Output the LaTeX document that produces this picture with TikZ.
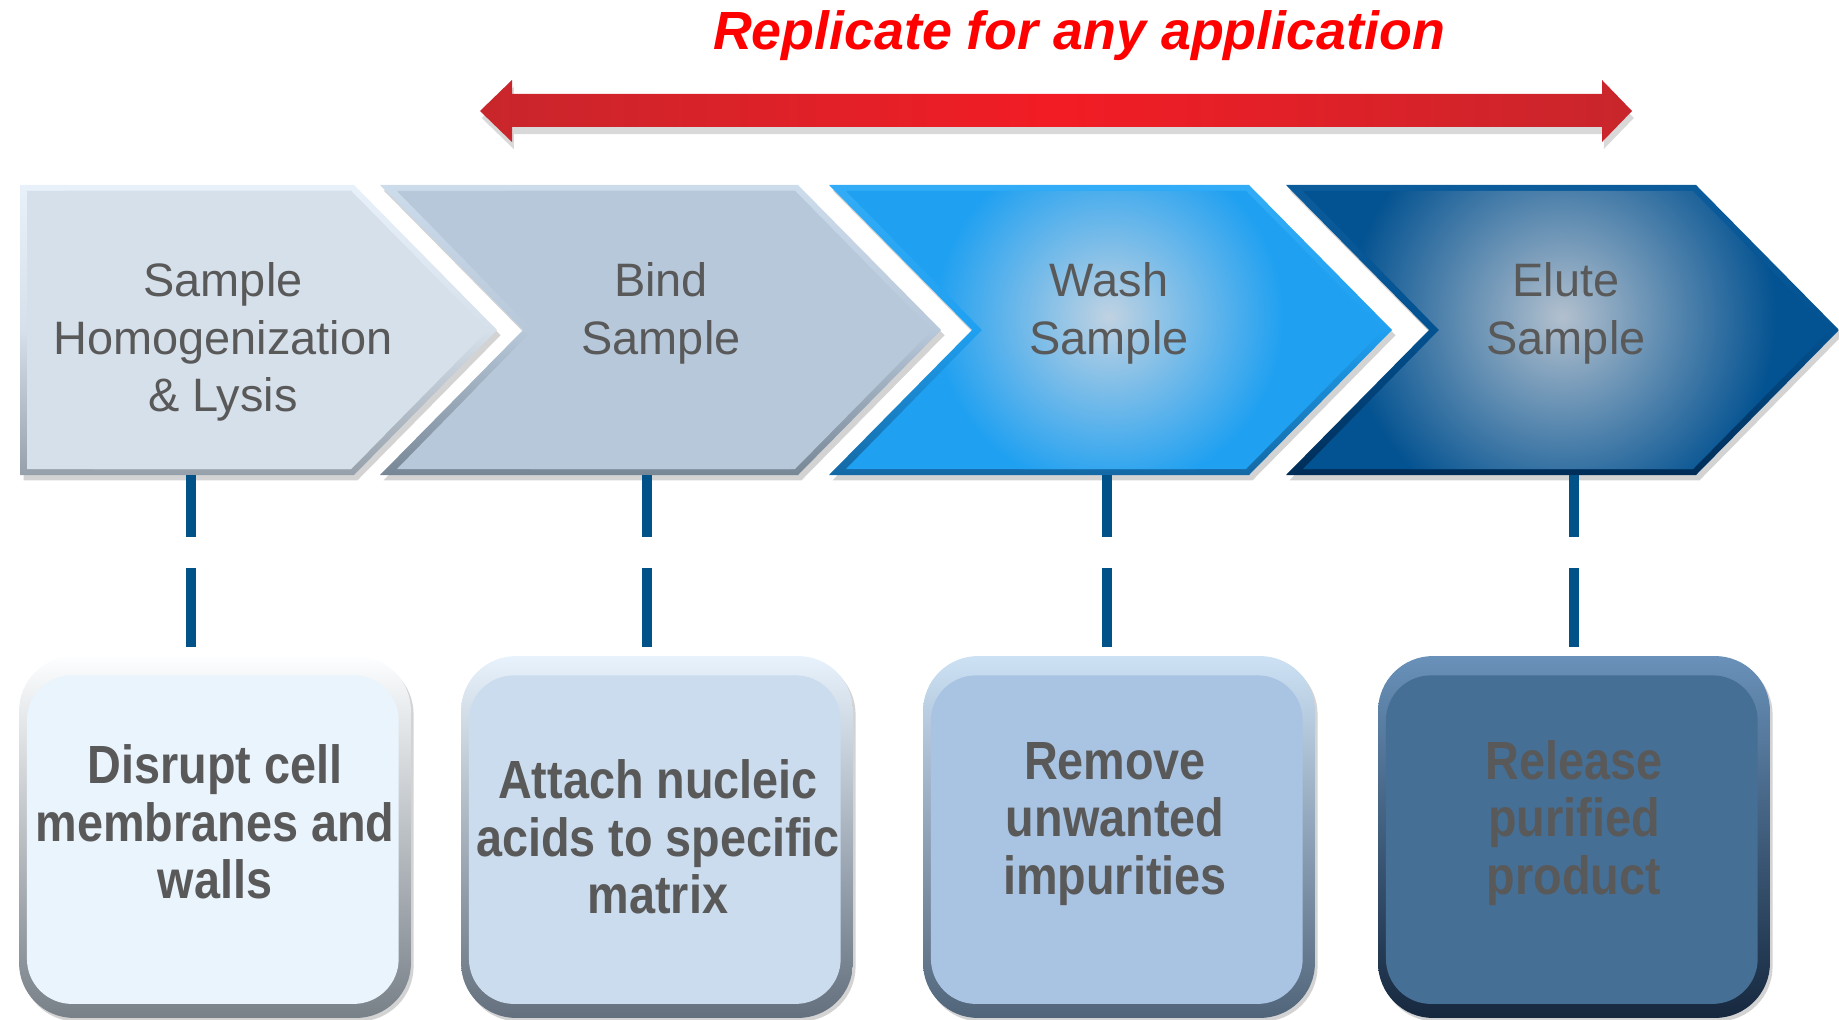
\documentclass[tikz,border=0pt]{standalone}
\usepackage{fontspec}
\setmainfont{Liberation Sans}
\newfontfamily\narrowfont[FakeStretch=0.87]{Liberation Sans}
\usetikzlibrary{shadows}

\definecolor{txtgray}{RGB}{89,89,89}
\definecolor{linkblue}{RGB}{0,82,137}
\definecolor{titlered}{RGB}{255,0,0}
\definecolor{arrowdark}{RGB}{200,38,44}
\definecolor{arrowlight}{RGB}{242,28,36}
% chevrons
\definecolor{chevA}{RGB}{214,224,234}
\definecolor{chevAtop}{RGB}{232,241,250}
\definecolor{chevAbot}{RGB}{150,160,170}
\definecolor{chevB}{RGB}{183,200,218}
\definecolor{chevBtop}{RGB}{205,220,235}
\definecolor{chevBbot}{RGB}{120,135,150}
\definecolor{chevC}{RGB}{31,160,241}
\definecolor{chevCtop}{RGB}{50,172,246}
\definecolor{chevCbot}{RGB}{20,105,165}
\definecolor{chevD}{RGB}{3,82,145}
\definecolor{chevDtop}{RGB}{12,92,155}
\definecolor{chevDbot}{RGB}{0,45,88}
\definecolor{glowC}{RGB}{192,210,226}
\definecolor{glowD}{RGB}{178,192,206}
% cards
\definecolor{cardA}{RGB}{234,244,253}
\definecolor{cardAtop}{RGB}{252,254,255}
\definecolor{cardAbot}{RGB}{120,128,136}
\definecolor{cardB}{RGB}{203,220,238}
\definecolor{cardBtop}{RGB}{232,242,252}
\definecolor{cardBbot}{RGB}{100,112,125}
\definecolor{cardC}{RGB}{169,196,226}
\definecolor{cardCtop}{RGB}{205,225,245}
\definecolor{cardCbot}{RGB}{80,100,122}
\definecolor{cardD}{RGB}{70,111,150}
\definecolor{cardDtop}{RGB}{105,145,185}
\definecolor{cardDbot}{RGB}{22,40,62}

\begin{document}
\begin{tikzpicture}[x=0.02cm, y=-0.02cm,
    steptext/.style={align=center, text=txtgray, font=\fontsize{26.7}{32.9}\selectfont},
    notetext/.style={align=center, text=txtgray, font=\narrowfont\bfseries\fontsize{30.6}{32.6}\selectfont},
    titletext/.style={text=titlered, font=\bfseries\itshape\fontsize{30.6}{34}\selectfont},
    link/.style={linkblue, line width=6.2pt, dash pattern=on 35.1pt off 18.1pt on 44.8pt off 20pt},
    card/.style n args={3}{rounded corners=1.1cm, minimum width=7.84cm, minimum height=7.24cm,
        inner sep=0pt, top color=#2, bottom color=#3,
        drop shadow={shadow xshift=1.5pt, shadow yshift=-2pt, opacity=.35},
        path picture={\fill[#1, rounded corners=0.9cm]
            ([shift={(4.5pt,-11pt)}]path picture bounding box.north west) rectangle
            ([shift={(-7pt,8pt)}]path picture bounding box.south east);}}]
    \useasboundingbox (0,0) rectangle (1839,1020);

    % Titulo e seta dupla
    \node[titletext] (title) at (1079,36) {Replicate for any application};
    \path[left color=arrowdark, right color=arrowdark, middle color=arrowlight,
          drop shadow={shadow xshift=1pt, shadow yshift=-4pt, opacity=.3}]
        (480,111) -- (512,80) -- (512,94) -- (1602,94) -- (1602,80) -- (1632,111)
        -- (1602,142) -- (1602,127) -- (512,127) -- (512,142) -- cycle;

    % Chevrons
    \foreach \lx/\nx/\sx/\fc/\gc/\gx/\rad in {20/0/354/chevA/chevA/223/200,
        380/143/798/chevB/chevB/661/200, 829/143/1249/chevC/glowC/1109/175,
        1286/143/1696/chevD/glowD/1562/215} {
        \path[top color=\fc top, bottom color=\fc bot, middle color=\fc,
              drop shadow={shadow xshift=2pt, shadow yshift=-3pt, opacity=.35}]
            (\lx,185) -- (\sx,185) -- ({\sx+143},330) -- (\sx,475) -- (\lx,475)
            -- ({\lx+\nx},330) -- cycle;
        \begin{scope}
            \clip ({\lx+7+0.07*\nx},191) -- ({\sx-3},191) -- ({\sx+134},330)
                -- ({\sx-3},469) -- ({\lx+7+0.07*\nx},469) -- ({\lx+\nx+7+0.021*\nx},330) -- cycle;
            \fill[\fc] (\lx,185) rectangle ({\sx+143},475);
            \shade[inner color=\gc, outer color=\fc] (\gx,317) circle (\rad);
        \end{scope}
    }

    \node[steptext] (step1) at (223,342) {Sample\\Homogenization\\\& Lysis};
    \node[steptext] (step2) at (661,313) {Bind\\Sample};
    \node[steptext] (step3) at (1109,313) {Wash\\Sample};
    \node[steptext] (step4) at (1566,313) {Elute\\Sample};

    % Cartoes
    \node[card={cardA}{cardAtop}{cardAbot}] (box1) at (215,837) {};
    \node[card={cardB}{cardBtop}{cardBbot}] (box2) at (657,837) {};
    \node[card={cardC}{cardCtop}{cardCbot}] (box3) at (1119,837) {};
    \node[card={cardD}{cardDtop}{cardDbot}] (box4) at (1574,837) {};

    \node[notetext] (note1) at (215,822) {Disrupt cell\\membranes and\\walls};
    \node[notetext] (note2) at (658,837) {Attach nucleic\\acids to specific\\matrix};
    \node[notetext] (note3) at (1115,824) {Remove\\unwanted\\impurities};
    \node[notetext] (note4) at (1574,823) {Release\\purified\\product};

    % Ligacoes
    \coordinate (s1) at (191,475);
    \coordinate (s2) at (647,475);
    \coordinate (s3) at (1107,475);
    \coordinate (s4) at (1574,475);
    \foreach \i in {1,...,4}
        \draw[link] (s\i) -- (s\i |- box\i.north);
\end{tikzpicture}
\end{document}
